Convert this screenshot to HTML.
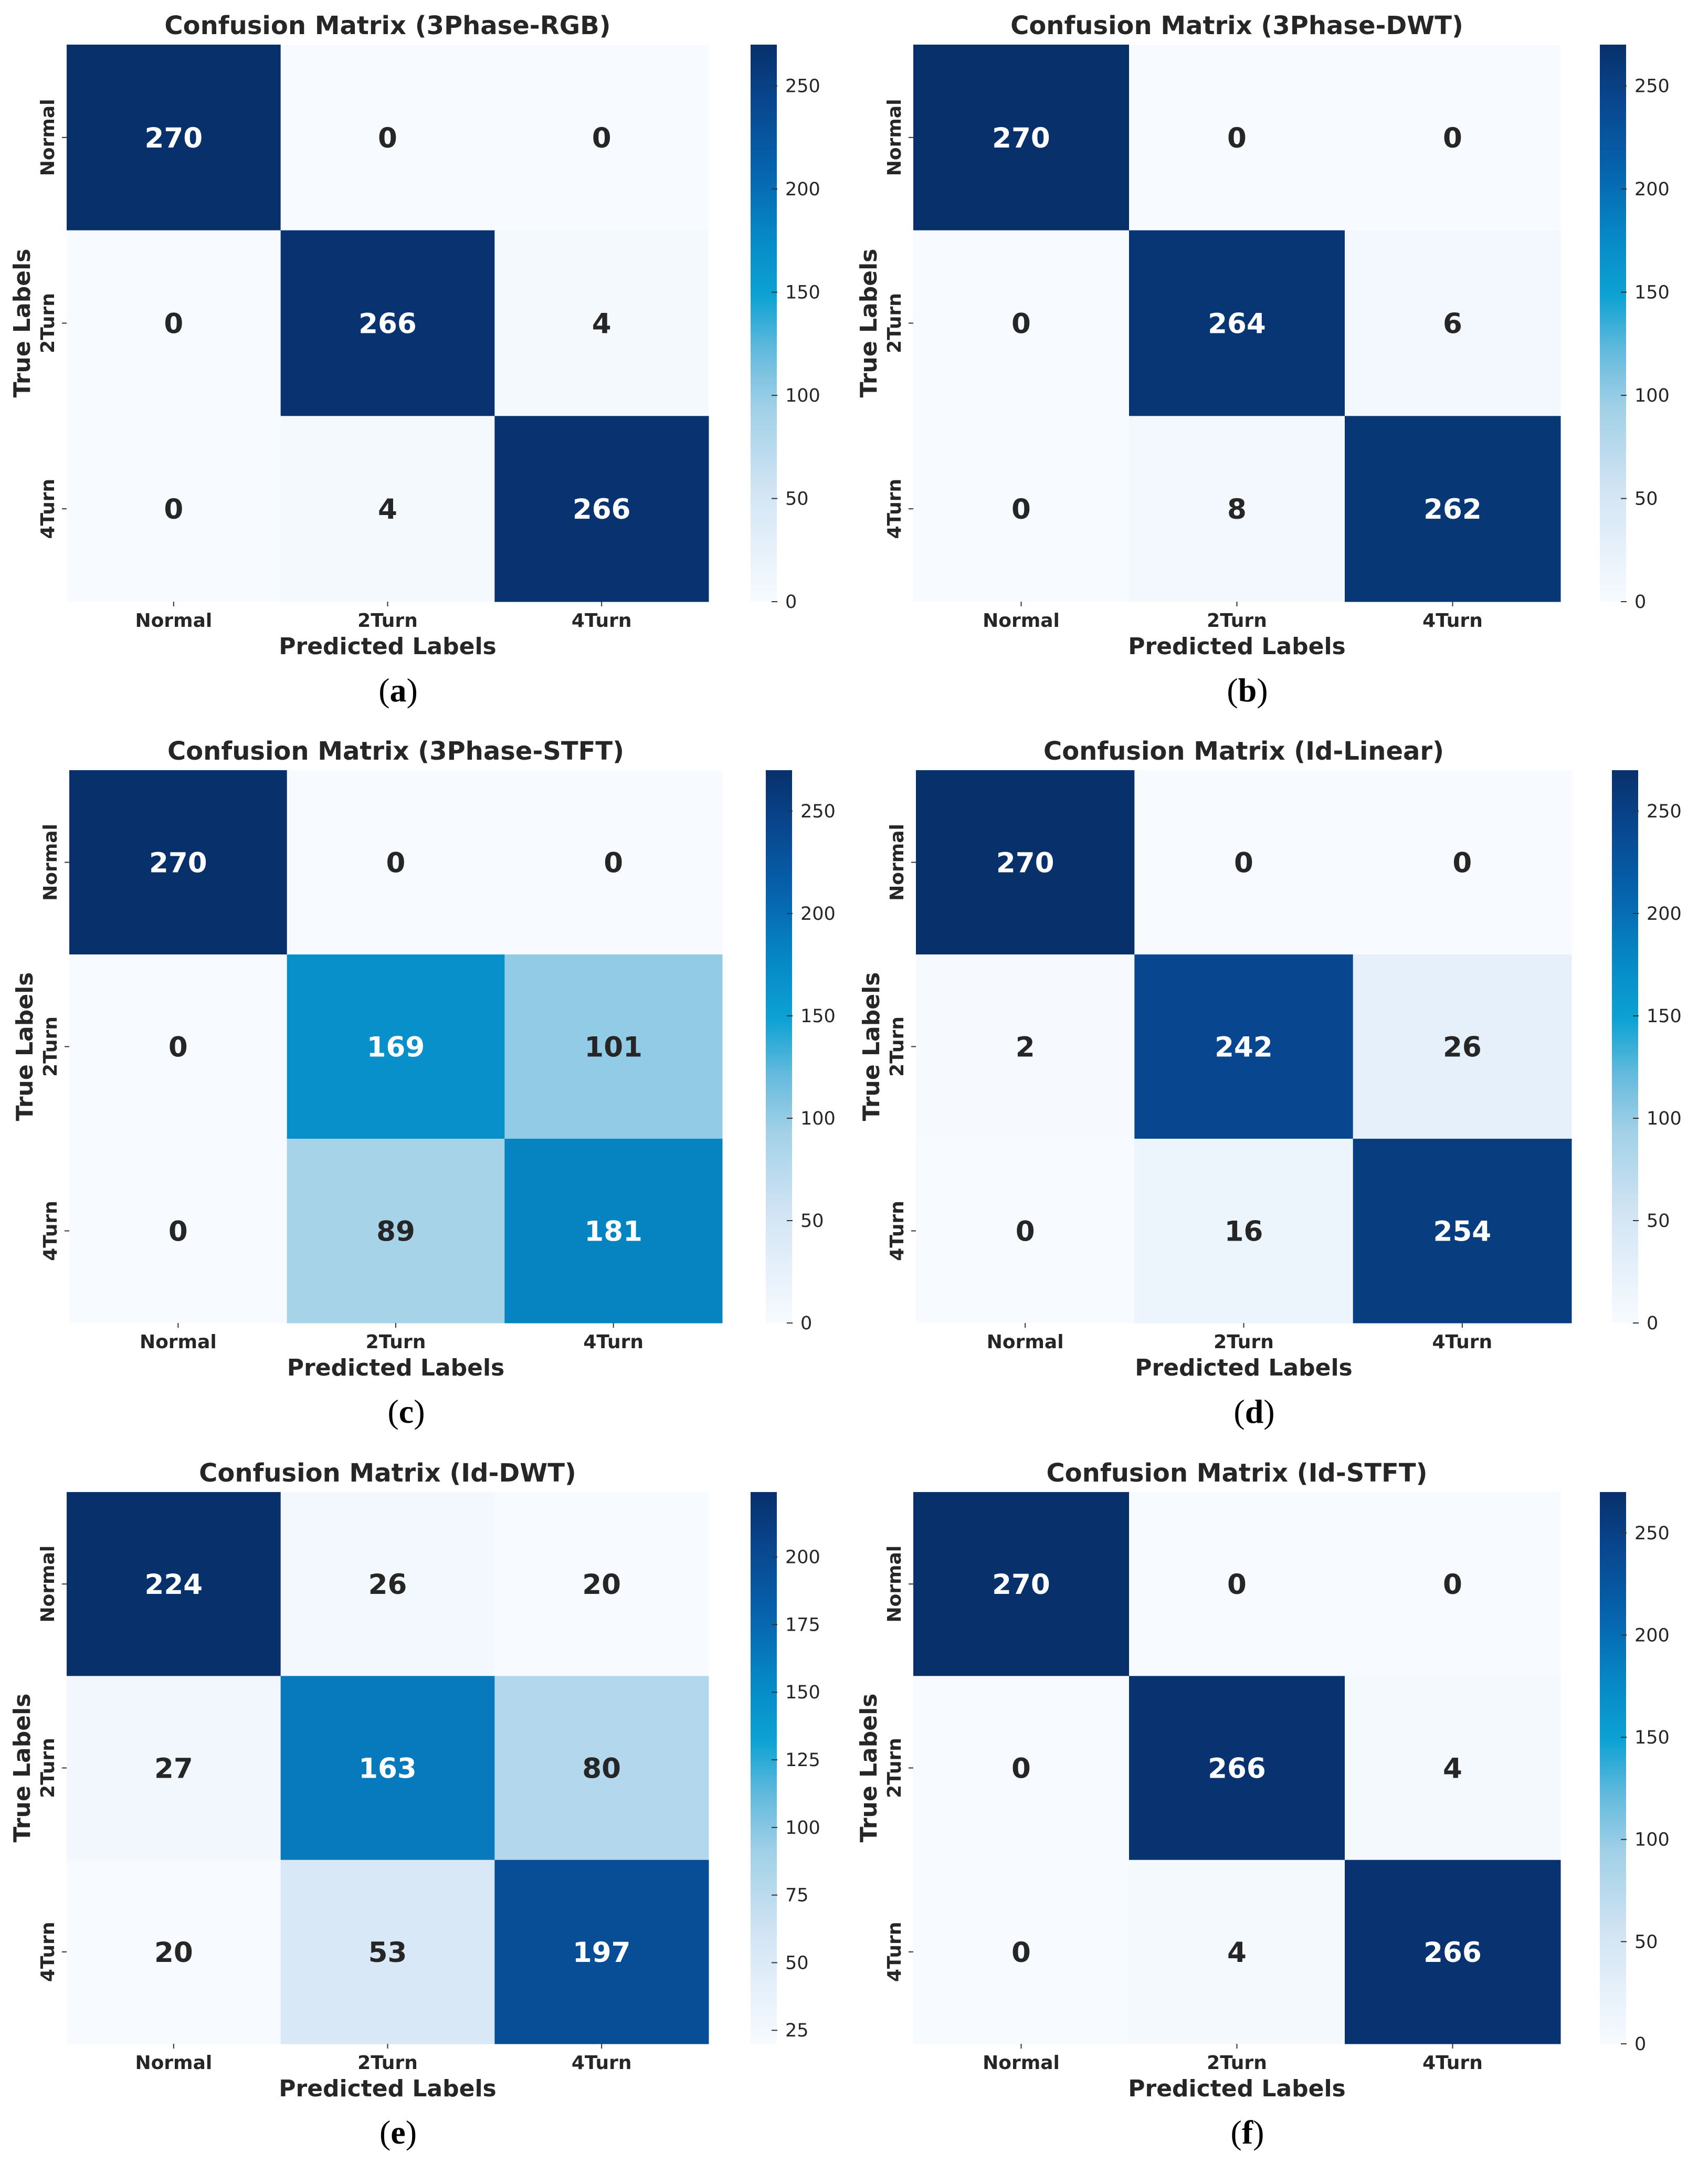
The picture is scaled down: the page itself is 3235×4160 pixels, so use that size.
<!DOCTYPE html>
<html><head><meta charset="utf-8"><style>
html,body{margin:0;padding:0;background:#fff;}
svg text{font-family:"DejaVu Sans","Liberation Sans",sans-serif;}
</style></head><body>
<svg id="fig" xmlns="http://www.w3.org/2000/svg" width="3235" height="4155" viewBox="0 0 3235 4155"></svg>
<script>
const classLabels = ["Normal", "2Turn", "4Turn"];
const panelTitles = ["Confusion Matrix (3Phase-RGB)", "Confusion Matrix (3Phase-DWT)", "Confusion Matrix (3Phase-STFT)", "Confusion Matrix (Id-Linear)", "Confusion Matrix (Id-DWT)", "Confusion Matrix (Id-STFT)"];
const panelCaptions = ["a", "b", "c", "d", "e", "f"];
const matrixA = [[270,0,0],[0,266,4],[0,4,266]];
const matrixB = [[270,0,0],[0,264,6],[0,8,262]];
const matrixC = [[270,0,0],[0,169,101],[0,89,181]];
const matrixD = [[270,0,0],[2,242,26],[0,16,254]];
const matrixE = [[224,26,20],[27,163,80],[20,53,197]];
const matrixF = [[270,0,0],[0,266,4],[0,4,266]];
const ticks270 = [0,50,100,150,200,250];
const ticksE = [25,50,75,100,125,150,175,200];
const matrices = [matrixA, matrixB, matrixC, matrixD, matrixE, matrixF];
const tickSets = [ticks270, ticks270, ticks270, ticks270, ticksE, ticks270];

// layout (not data)
const layouts = [
  {x0:127,x1:1350,y0:85,y1:1146,cb:1430},
  {x0:1740,x1:2973,y0:85,y1:1146,cb:3048},
  {x0:132,x1:1376,y0:1467,y1:2520,cb:1459},
  {x0:1745,x1:2994,y0:1467,y1:2520,cb:3071},
  {x0:127,x1:1350,y0:2842,y1:3893,cb:1430},
  {x0:1740,x1:2973,y0:2842,y1:3893,cb:3048}
];
const stops = [[0,[247,251,255]],[0.2,[210,228,244]],[0.35,[160,208,231]],[0.45,[100,186,221]],[0.55,[12,162,211]],[0.65,[6,138,198]],[0.78,[6,98,172]],[0.9,[8,70,142]],[1,[8,48,107]]];
function cmap(t){t=Math.max(0,Math.min(1,t));for(let i=1;i<stops.length;i++){if(t<=stops[i][0]){const a=stops[i-1],b=stops[i];const f=(t-a[0])/(b[0]-a[0]);const c=a[1].map((v,k)=>Math.round(v+(b[1][k]-v)*f));return `rgb(${c[0]},${c[1]},${c[2]})`;}}return 'rgb(8,48,107)';}
const NS="http://www.w3.org/2000/svg";
const svg=document.getElementById('fig');
function el(tag,attrs,parent,txt){const e=document.createElementNS(NS,tag);for(const k in attrs)e.setAttribute(k,attrs[k]);if(txt!==undefined)e.textContent=txt;(parent||svg).appendChild(e);return e;}
const defs=el('defs',{});
const grad=el('linearGradient',{id:'cbgrad',x1:0,y1:1,x2:0,y2:0},defs);
for(let i=0;i<=20;i++){el('stop',{offset:i/20,'stop-color':cmap(i/20)},grad);}

matrices.forEach((m,p)=>{
  const L=layouts[p];
  const g=el('g',{});
  
  
  const flat=m.flat();const vmin=Math.min(...flat),vmax=Math.max(...flat);
  const n=classLabels.length;
  const cw=(L.x1-L.x0)/n,ch=(L.y1-L.y0)/n;
  const xs=i=>L.x0+i*cw, ys=i=>L.y0+i*ch;
  const norm=v=>(v-vmin)/(vmax-vmin);
  const cx=(L.x0+L.x1)/2;
  const t=el('text',{x:cx,y:L.y0-20,'text-anchor':'middle','font-size':48,'font-weight':'bold',fill:'#262626'},g,panelTitles[p]);
  
  
  for(let r=0;r<n;r++)for(let c=0;c<n;c++){
    const v=m[r][c];
    const rc=el('rect',{x:xs(c),y:ys(r),width:cw+0.5,height:ch+0.5,fill:cmap(norm(v))},g);
    
    
    const tx=el('text',{x:xs(c)+cw/2,y:ys(r)+ch/2+19,'text-anchor':'middle','font-size':53,'font-weight':'bold',fill:norm(v)>0.5?'#ffffff':'#262626'},g,String(v));
    
    
  }
  classLabels.forEach((lab,i)=>{
    const x=xs(i)+cw/2;
    el('line',{x1:x,y1:L.y1,x2:x,y2:L.y1+9,stroke:'#333','stroke-width':2},g);
    const xl=el('text',{x:x,y:L.y1+48,'text-anchor':'middle','font-size':36,'font-weight':'bold',fill:'#262626'},g,lab);
    
    
    const y=ys(i)+ch/2;
    el('line',{x1:L.x0-9,y1:y,x2:L.x0,y2:y,stroke:'#333','stroke-width':2},g);
    const yl=el('text',{x:0,y:0,'text-anchor':'middle','font-size':36,'font-weight':'bold',fill:'#262626',transform:`translate(${L.x0-24},${y}) rotate(-90)`},g,lab);
    
    
  });
  const xlab=el('text',{x:cx,y:L.y1+100,'text-anchor':'middle','font-size':44,'font-weight':'bold',fill:'#262626'},g,'Predicted Labels');
  
  
  const ylab=el('text',{x:0,y:0,'text-anchor':'middle','font-size':44,'font-weight':'bold',fill:'#262626',transform:`translate(${L.x0-70},${(L.y0+L.y1)/2}) rotate(-90)`},g,'True Labels');
  
  
  const cap=el('text',{x:cx+20,y:L.y1+190,'text-anchor':'middle','font-size':64,fill:'#000'},g);
  cap.setAttribute('style','font-family:"Liberation Serif",serif');
  
  
  el('tspan',{},cap,'(');el('tspan',{'font-weight':'bold'},cap,panelCaptions[p]);el('tspan',{},cap,')');
  const cbw=50;
  const cb=el('rect',{x:L.cb,y:L.y0,width:cbw,height:L.y1-L.y0,fill:'url(#cbgrad)'},g);
  
  
  const cy=v=>L.y1-(v-vmin)/(vmax-vmin)*(L.y1-L.y0);
  tickSets[p].forEach(tv=>{
    const y=cy(tv);
    el('line',{x1:L.cb+cbw-10,y1:y,x2:L.cb+cbw+1,y2:y,stroke:'#333','stroke-width':2},g);
    const tl=el('text',{x:L.cb+cbw+16,y:y+12,'font-size':35,fill:'#262626'},g,String(tv));
    
    
  });
});
</script>
</body></html>
